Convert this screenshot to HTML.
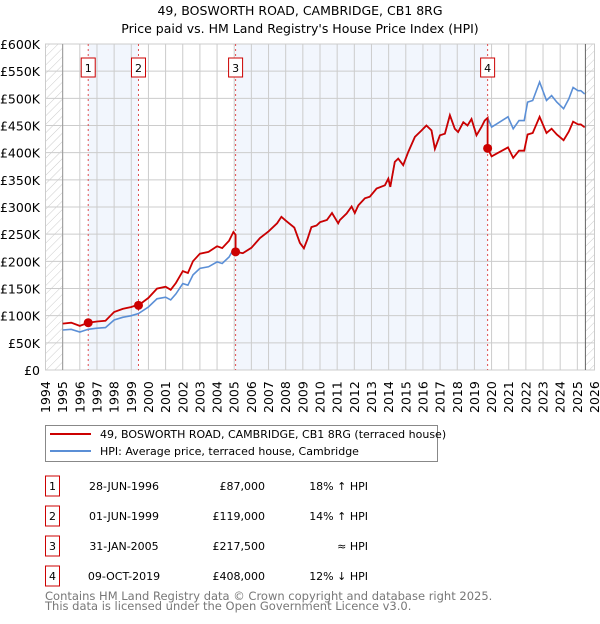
<!DOCTYPE html>
<html><head><meta charset="utf-8">
<style>
body{margin:0;background:#fff;font-family:"DejaVu Sans","Liberation Sans",sans-serif;}
svg text{font-family:"DejaVu Sans","Liberation Sans",sans-serif;}
</style></head>
<body>
<svg id="chart" width="600" height="620" xmlns="http://www.w3.org/2000/svg">
<defs>
<pattern id="hatch" width="6" height="6" patternUnits="userSpaceOnUse" patternTransform="rotate(45)">
<rect width="6" height="6" fill="#fff"/><line x1="0" y1="0" x2="0" y2="6" stroke="#ccc" stroke-width="1"/>
</pattern>
</defs>
<text x="300" y="15" text-anchor="middle" font-size="12.5">49, BOSWORTH ROAD, CAMBRIDGE, CB1 8RG</text>
<text x="300" y="33" text-anchor="middle" font-size="12.5">Price paid vs. HM Land Registry's House Price Index (HPI)</text>
<g id="plot"></g>
<g id="legend">
<rect x="45.5" y="425.5" width="392" height="36" fill="#fff" stroke="#888"/>
<line x1="50" y1="434" x2="91" y2="434" stroke="#cc0000" stroke-width="2"/>
<text x="100" y="438" font-size="11">49, BOSWORTH ROAD, CAMBRIDGE, CB1 8RG (terraced house)</text>
<line x1="50" y1="451" x2="91" y2="451" stroke="#5b8fd6" stroke-width="2"/>
<text x="100" y="455" font-size="11">HPI: Average price, terraced house, Cambridge</text>
</g>
<g id="table"></g>
<text x="45" y="600" font-size="11.5" fill="#777">Contains HM Land Registry data © Crown copyright and database right 2025.</text>
<text x="45" y="610" font-size="11.5" fill="#777">This data is licensed under the Open Government Licence v3.0.</text>
</svg>
<script>
const hpiYears=[1995.0,1995.5,1996.0,1996.49,1997.0,1997.5,1998.0,1998.5,1999.0,1999.42,2000.0,2000.5,2001.0,2001.3,2001.6,2002.0,2002.3,2002.6,2003.0,2003.5,2004.0,2004.3,2004.7,2004.95,2005.08,2005.5,2006.0,2006.5,2007.0,2007.5,2007.75,2008.0,2008.5,2008.83,2009.06,2009.26,2009.5,2009.8,2010.0,2010.4,2010.7,2011.06,2011.16,2011.55,2011.84,2012.03,2012.23,2012.62,2012.9,2013.3,2013.78,2013.98,2014.1,2014.36,2014.56,2014.85,2015.14,2015.53,2015.92,2016.2,2016.5,2016.7,2016.99,2017.28,2017.57,2017.86,2018.05,2018.35,2018.6,2018.83,2019.12,2019.41,2019.6,2019.77,2020.0,2020.3,2020.96,2021.26,2021.6,2021.9,2022.1,2022.4,2022.8,2023.2,2023.5,2023.8,2024.2,2024.5,2024.75,2025.04,2025.2,2025.43];
const hpiValues=[73.6,75,70,75,77,78,92,97,100,104,116,131,134,129,140,159,156,175,187,190,199,196,208,222,217.5,215,225,243,255,270,282,275,262,234,224,240,263,266,272,276,289,270,276,288,301,289,303,316,319,334,340,352,337,383,389,377,401,429,441,450,441,407,432,435,469,444,438,456,450,462,432,447,459,464,447,453,466,444,459,459,493,496,530,496,505,493,481,499,520,514,514,508];
const saleLabels=["1","2","3","4"];
const saleYears=[1996.49,1999.42,2005.08,2019.77];
const salePrices=[87,119,217.5,408];
const saleDates=["28-JUN-1996","01-JUN-1999","31-JAN-2005","09-OCT-2019"];
const salePriceText=["£87,000","£119,000","£217,500","£408,000"];
const saleHpiText=["18% ↑ HPI","14% ↑ HPI","≈ HPI","12% ↓ HPI"];
const yTicks=[0,50,100,150,200,250,300,350,400,450,500,550,600];
const yTickLabels=["£0","£50K","£100K","£150K","£200K","£250K","£300K","£350K","£400K","£450K","£500K","£550K","£600K"];
const xTicks=[1994,1995,1996,1997,1998,1999,2000,2001,2002,2003,2004,2005,2006,2007,2008,2009,2010,2011,2012,2013,2014,2015,2016,2017,2018,2019,2020,2021,2022,2023,2024,2025,2026];

const L=45.5,R=594.5,T=44,B=370;
const xS=y=>L+(y-1994)*(R-L)/32;
const yS=v=>B-v*(B-T)/600;
const NS="http://www.w3.org/2000/svg";
const plot=document.getElementById('plot');
function mk(tag,attrs,parent){const e=document.createElementNS(NS,tag);for(const k in attrs)e.setAttribute(k,attrs[k]);(parent||plot).appendChild(e);return e;}
function hpiAt(t){for(let i=0;i<hpiYears.length-1;i++){if(t>=hpiYears[i]&&t<=hpiYears[i+1]){const f=(t-hpiYears[i])/(hpiYears[i+1]-hpiYears[i]);return hpiValues[i]+f*(hpiValues[i+1]-hpiValues[i]);}}return hpiValues[hpiValues.length-1];}

// background
let bg=mk('rect',{x:L,y:T,width:R-L,height:B-T,fill:'#fff',stroke:'#ccc'});


const shadePairs=[[0,1],[2,3]];
shadePairs.forEach(p=>{let s=mk('rect',{x:xS(saleYears[p[0]]),y:T,width:xS(saleYears[p[1]])-xS(saleYears[p[0]]),height:B-T,fill:'#eef3fc',opacity:0.75});

});
let h1=mk('rect',{x:L,y:T,width:xS(1995)-L,height:B-T,fill:'url(#hatch)'});


let h2=mk('rect',{x:xS(2025.47),y:T,width:R-xS(2025.47),height:B-T,fill:'url(#hatch)'});


// grid
yTicks.forEach((v,i)=>{let g=mk('line',{x1:L,x2:R,y1:yS(v),y2:yS(v),stroke:'#ccc'});


let t=mk('text',{x:40,y:yS(v)+5,'text-anchor':'end','font-size':'12.5'});t.textContent=yTickLabels[i];

});
xTicks.forEach(y=>{let g=mk('line',{x1:xS(y),x2:xS(y),y1:T,y2:B,stroke:'#ccc'});


const x=xS(y)+4.5,yy=413;let t=mk('text',{x:x,y:yy,'font-size':'12.5',transform:`rotate(-90 ${x} ${yy})`});t.textContent=y;

});
let a1=mk('line',{x1:xS(1995),x2:xS(1995),y1:T,y2:B,stroke:'#999'});


let a2=mk('line',{x1:xS(2025.47),x2:xS(2025.47),y1:T,y2:B,stroke:'#666'});


// sale vlines + labels
saleYears.forEach((y,i)=>{let l=mk('line',{x1:xS(y),x2:xS(y),y1:T,y2:B,stroke:'#e05050','stroke-dasharray':'2,3'});


let b=mk('rect',{x:xS(y)-7,y:58,width:14,height:19,fill:'#fff',stroke:'#cc0000'});


let t=mk('text',{x:xS(y),y:72,'text-anchor':'middle','font-size':'11'});t.textContent=saleLabels[i];

});
// HPI line
let d='';hpiYears.forEach((y,i)=>{d+=(i?'L':'M')+xS(y).toFixed(1)+','+yS(hpiValues[i]).toFixed(1);});
let hp=mk('path',{d:d,fill:'none',stroke:'#5b8fd6','stroke-width':1.6});


// price line: HPI scaled from most recent sale
function ratioAt(t){let k=0;for(let i=0;i<saleYears.length;i++)if(t>=saleYears[i])k=i;return salePrices[k]/hpiAt(saleYears[k]);}
let pts=[];hpiYears.forEach((y,i)=>{pts.push([y,hpiValues[i]*ratioAt(y)]);});
saleYears.forEach((s,k)=>{if(k>0){pts.push([s-0.001,hpiAt(s)*salePrices[k-1]/hpiAt(saleYears[k-1])]);}pts.push([s,salePrices[k]]);});
pts.sort((a,b)=>a[0]-b[0]);
let d2='';pts.forEach((p,i)=>{d2+=(i?'L':'M')+xS(p[0]).toFixed(1)+','+yS(p[1]).toFixed(1);});
let pp=mk('path',{d:d2,fill:'none',stroke:'#cc0000','stroke-width':1.8});


saleYears.forEach((y,i)=>{let c=mk('circle',{cx:xS(y),cy:yS(salePrices[i]),r:4.5,fill:'#cc0000'});

});
// table
const tb=document.getElementById('table');
saleLabels.forEach((lab,i)=>{const cy=486+i*30;
let b=mk('rect',{x:45.5,y:cy-10,width:14,height:20,fill:'#fff',stroke:'#cc0000'},tb);


let t=mk('text',{x:52.5,y:cy+4,'text-anchor':'middle','font-size':'11'},tb);t.textContent=lab;


let t1=mk('text',{x:124,y:cy+4,'text-anchor':'middle','font-size':'11'},tb);t1.textContent=saleDates[i];


let t2=mk('text',{x:265,y:cy+4,'text-anchor':'end','font-size':'11'},tb);t2.textContent=salePriceText[i];


let t3=mk('text',{x:368,y:cy+4,'text-anchor':'end','font-size':'11'},tb);t3.textContent=saleHpiText[i];

});
</script>
</body></html>
